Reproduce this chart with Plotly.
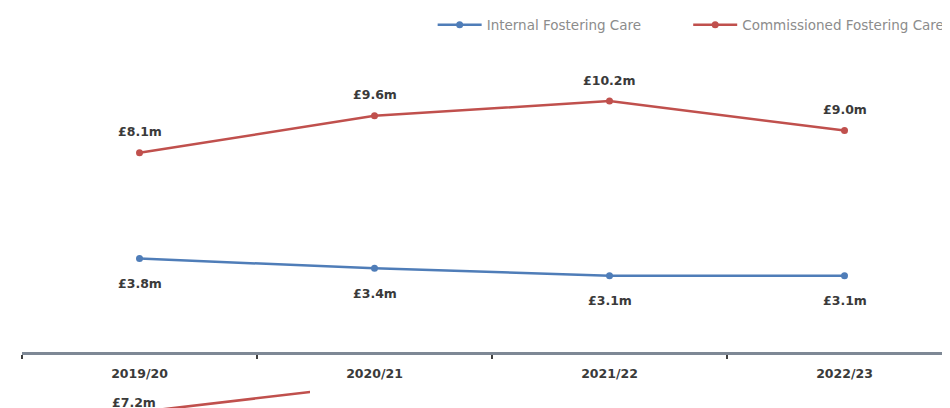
import plotly.graph_objects as go

years = ["2019/20", "2020/21", "2021/22", "2022/23"]
internal = [3.8, 3.4, 3.1, 3.1]
commissioned = [8.1, 9.6, 10.2, 9.0]
next_chart_years = ["2019/20", "2020/21"]
next_chart_commissioned = [7.2, 8.3]

BLUE = "#4F7DB8"
RED = "#C0504D"
LABEL_FONT = dict(family="DejaVu Sans", size=12.5, color="#3A3A3A")

W, H = 950, 408
T = 32
PH = H - T  # paper height in px

fig = go.Figure()
fig.add_trace(go.Scatter(
    x=years, y=internal, mode="lines+markers", name="Internal Fostering Care",
    line=dict(color=BLUE, width=2.5), marker=dict(size=7, color=BLUE),
    legend="legend",
))
fig.add_trace(go.Scatter(
    x=years, y=commissioned, mode="lines+markers", name="Commissioned Fostering Care",
    line=dict(color=RED, width=2.5), marker=dict(size=7, color=RED),
    legend="legend2",
))
# partially visible next chart at the bottom edge
fig.add_trace(go.Scatter(
    x=next_chart_years, y=next_chart_commissioned, mode="lines+markers",
    cliponaxis=False,
    line=dict(color=RED, width=2.5), marker=dict(size=7, color=RED),
    xaxis="x2", yaxis="y2", showlegend=False,
))

annotations = []
for x, v in zip(years, internal):
    annotations.append(dict(x=x, y=v, text="<b>£%.1fm</b>" % v, showarrow=False,
                            yshift=-25, font=LABEL_FONT))
for x, v in zip(years, commissioned):
    annotations.append(dict(x=x, y=v, text="<b>£%.1fm</b>" % v, showarrow=False,
                            yshift=21, font=LABEL_FONT))
annotations.append(dict(x=next_chart_years[0], y=next_chart_commissioned[0],
                        xref="x2", yref="y2",
                        text="<b>£%.1fm</b>" % next_chart_commissioned[0],
                        showarrow=False, yshift=10, xshift=-6, font=LABEL_FONT))

legend_style = dict(orientation="h", y=1 + 15 / PH, yanchor="middle", xanchor="left",
                    font=dict(family="DejaVu Sans", size=13.5, color="#8C8C8C"),
                    itemwidth=44, bgcolor="rgba(0,0,0,0)")

fig.update_layout(
    width=W, height=H,
    margin=dict(l=0, r=0, t=T, b=0),
    paper_bgcolor="white", plot_bgcolor="white",
    annotations=annotations,
    legend=dict(x=0.447, **legend_style),
    legend2=dict(x=0.716, **legend_style),
    xaxis=dict(domain=[14 / W, 1], range=[-0.5, 3.483], showgrid=False,
               showline=True, linecolor="#7E8895", linewidth=3,
               ticks="outside", tickson="boundaries", ticklen=4, tickcolor="#404040",
               tickwidth=1.5, ticklabelstandoff=8,
               tickfont=dict(family="DejaVu Sans", size=12.5, color="#3A3A3A"),
               tickprefix="<b>", ticksuffix="</b>", anchor="y"),
    yaxis=dict(domain=[64 / PH, 1], range=[0, 12.68], visible=False, showgrid=False,
               zeroline=False),
    xaxis2=dict(domain=[0, 302 / W], range=[-0.5596, 0.7255],
                visible=False, anchor="y2"),
    yaxis2=dict(domain=[0, 28 / PH], range=[7.04, 8.16], visible=False, anchor="x2"),
)

fig.write_html("out.html")
